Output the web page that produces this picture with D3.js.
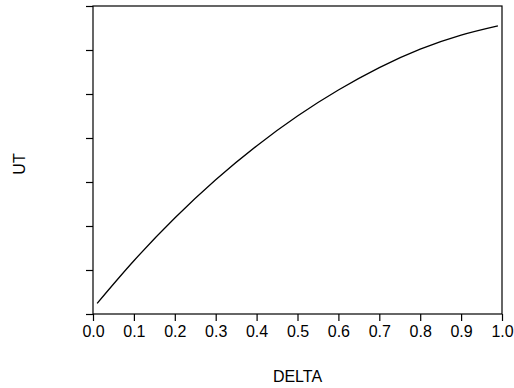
<!DOCTYPE html>
<html>
<head>
<meta charset="utf-8">
<script src="https://cdn.jsdelivr.net/npm/d3@7"></script>
<style>
  html, body { margin: 0; padding: 0; background: #fff; }
  svg { display: block; }
  text { font-family: "Liberation Sans", Arial, sans-serif; fill: #000; }
</style>
</head>
<body>
<svg id="chart" width="514" height="388"></svg>
<script>
// UT as a function of DELTA
const delta = [0.01, 0.1, 0.2, 0.3, 0.4, 0.5, 0.6, 0.7, 0.8, 0.9, 0.99];
const ut    = [0.24, 1.21, 2.18, 3.05, 3.82, 4.50, 5.09, 5.60, 6.02, 6.34, 6.55];

const xTicks = [0.0, 0.1, 0.2, 0.3, 0.4, 0.5, 0.6, 0.7, 0.8, 0.9, 1.0];
const yTicks = [0, 1, 2, 3, 4, 5, 6, 7];

const xLabel = "DELTA";
const yLabel = "UT";

const svg = d3.select("#chart");
const margin = { left: 93, top: 6, right: 12, bottom: 74 };
const W = 514, H = 388;
const plotW = W - margin.left - margin.right;
const plotH = H - margin.top - margin.bottom;

const x = d3.scaleLinear().domain([0, 1]).range([margin.left, margin.left + plotW]);
const y = d3.scaleLinear().domain([0, 7]).range([margin.top + plotH, margin.top]);

// frame
svg.append("rect")
  .attr("x", x(0)).attr("y", y(7))
  .attr("width", x(1) - x(0)).attr("height", y(0) - y(7))
  .attr("fill", "none").attr("stroke", "#000").attr("stroke-width", 1.2);

// x axis
const xAxis = svg.append("g")
  .attr("transform", `translate(0,${y(0)})`)
  .call(d3.axisBottom(x).tickValues(xTicks).tickFormat(d3.format(".1f")).tickSize(7).tickPadding(5));
xAxis.select(".domain").remove();
xAxis.selectAll("line").attr("stroke", "#000").attr("stroke-width", 1.2);
xAxis.selectAll("text").attr("font-size", 16).attr("font-family", "Liberation Sans, Arial, sans-serif");

// y axis (ticks only)
const yAxis = svg.append("g")
  .attr("transform", `translate(${x(0)},0)`)
  .call(d3.axisLeft(y).tickValues(yTicks).tickFormat("").tickSize(7));
yAxis.select(".domain").remove();
yAxis.selectAll("line").attr("stroke", "#000").attr("stroke-width", 1.2);

// curve
const pts = delta.map((d, i) => [d, ut[i]]);
svg.append("path")
  .datum(pts)
  .attr("fill", "none")
  .attr("stroke", "#000")
  .attr("stroke-width", 1.3)
  .attr("d", d3.line().x(d => x(d[0])).y(d => y(d[1])).curve(d3.curveNatural));

// axis titles
svg.append("text")
  .attr("x", (x(0) + x(1)) / 2)
  .attr("y", 382)
  .attr("text-anchor", "middle")
  .attr("font-size", 16)
  .text(xLabel);

svg.append("text")
  .attr("transform", `translate(25,164) rotate(-90)`)
  .attr("text-anchor", "middle")
  .attr("font-size", 16)
  .text(yLabel);
</script>
</body>
</html>
